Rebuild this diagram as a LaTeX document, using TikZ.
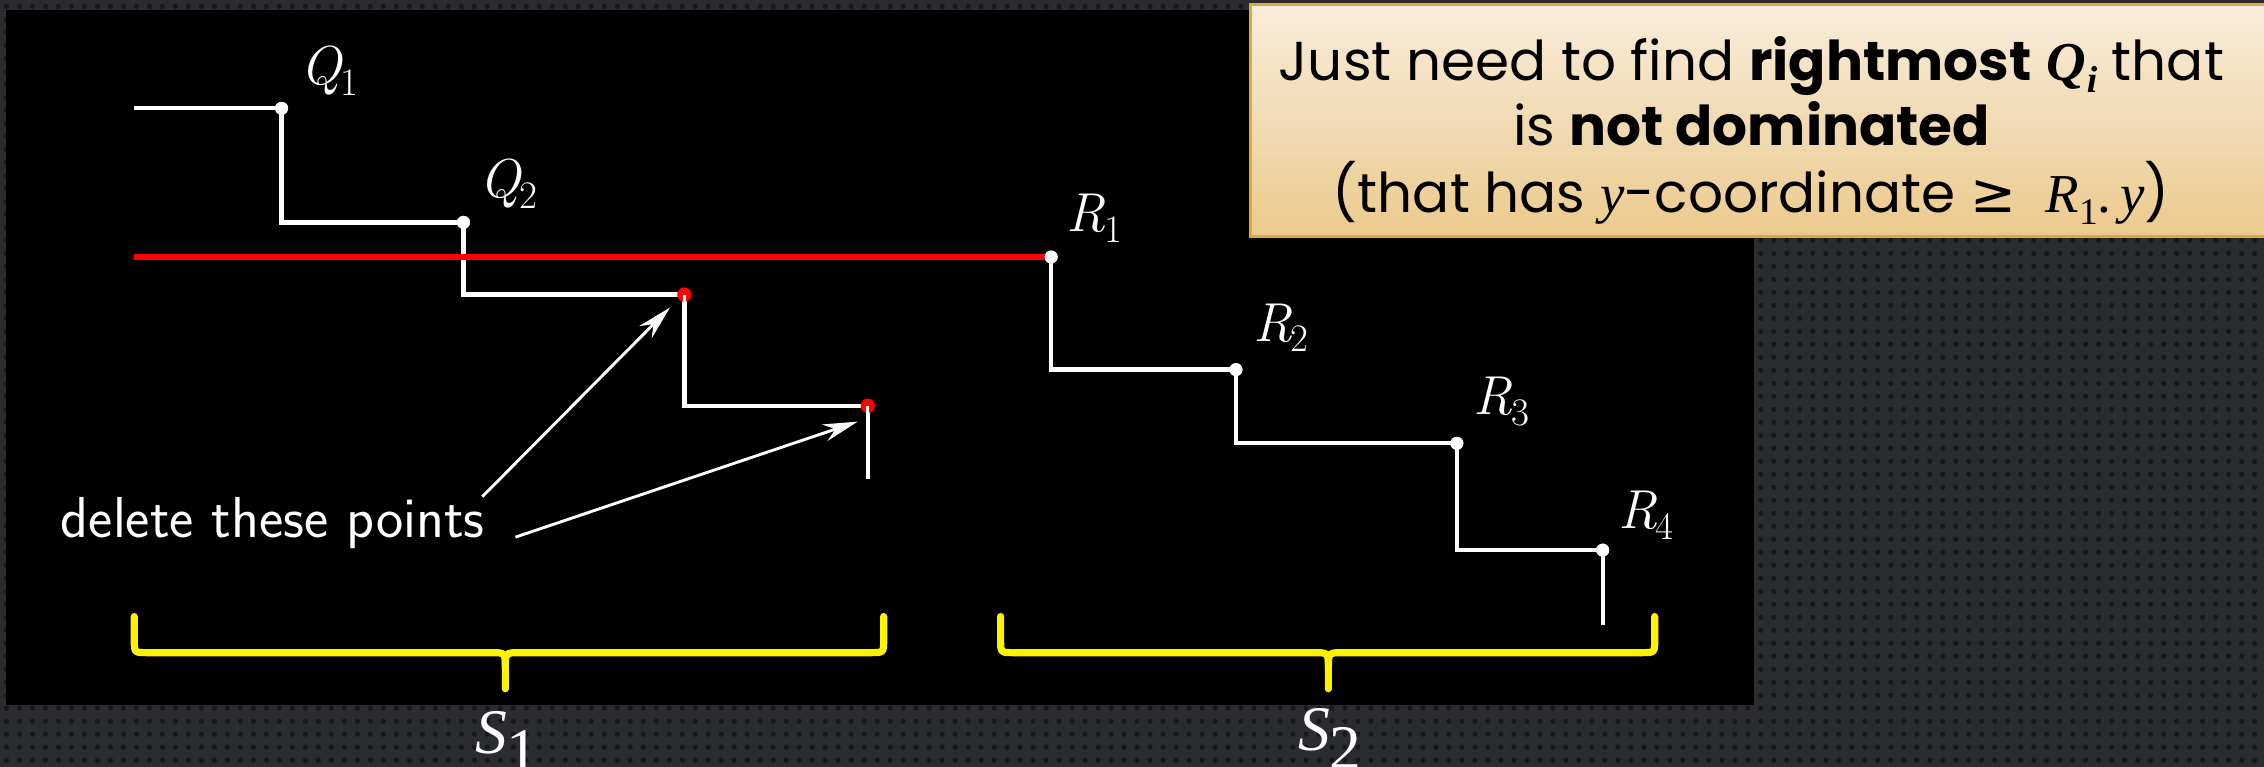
\documentclass[tikz,border=0pt]{standalone}
\usepackage{fontspec}
\newfontfamily\gothic{Poppins}
\newfontfamily\cmb{Liberation Serif}
\newfontfamily\djv{DejaVu Sans}
\usetikzlibrary{arrows.meta,patterns}
\pgfdeclarepatternformonly{bgdots}{\pgfpoint{-1pt}{-1pt}}{\pgfpoint{10pt}{10pt}}{\pgfpoint{9pt}{9pt}}{\pgfpathcircle{\pgfpoint{4.5pt}{4.5pt}}{1.8pt}\pgfusepath{fill}}
\definecolor{bgbase}{HTML}{2A2C30}
\definecolor{bgdot}{HTML}{17181C}
\definecolor{calltop}{HTML}{F8ECDB}
\definecolor{callbot}{HTML}{EBCA8C}
\definecolor{callborder}{HTML}{D9A848}
\definecolor{ptred}{HTML}{FF0000}
\newcommand{\qsub}{{\cmb\bfseries\itshape Q\kern0.02em\raisebox{-0.22em}{\fontsize{26}{26}\selectfont i}}}
\newcommand{\rdoty}{{\cmb\itshape R\raisebox{-0.22em}{\fontsize{26}{26}\selectfont\upshape 1}\upshape.\,\itshape y}}
\newcommand{\ptlab}[2]{{\itshape #1}\kern-0.03em\raisebox{-0.2em}{\fontsize{27}{27}\selectfont #2}}
\begin{document}
\begin{tikzpicture}[x=1pt,y=-1pt,
  wline/.style={white,line width=3pt},
  rline/.style={ptred,line width=4.5pt},
  wpt/.style={circle,fill=white,inner sep=0pt,minimum size=9pt},
  rpt/.style={circle,fill=ptred,inner sep=0pt,minimum size=10pt},
  lab/.style={white,font=\fontsize{38}{44}\selectfont},
  arr/.style={white,line width=2pt,-{Stealth[length=24pt,width=12pt]}},
  brace/.style={yellow,line width=5pt,line cap=round,line join=round},
  calltext/.style={black,inner sep=0pt,font=\gothic\fontsize{38}{44}\selectfont},
  slab/.style={white,inner sep=0pt,font=\cmb\fontsize{44}{48}\selectfont}]
\useasboundingbox (0,0) rectangle (1568,531);
\fill[bgbase] (0,0) rectangle (1568,531);
\fill[pattern=bgdots,pattern color=bgdot] (0,0) rectangle (1568,531);
\fill[black] (4,7) rectangle (1215,488);

% callout box
\shade[top color=calltop,bottom color=callbot] (866,3) rectangle (1580,164);
\draw[callborder,line width=2pt] (866,3) rectangle (1580,164);
\node[calltext,anchor=base] (t1) at (1213,56) {Just need to find \textbf{rightmost} \qsub{} that};
\node[calltext,anchor=base] (t2) at (1213,101) {is \textbf{not dominated}};
\node[calltext,anchor=base] (t3) at (1213,147) {(that has {\cmb\itshape y}-coordinate {\djv ≥}\ \ \rdoty)};

% coordinates
\coordinate (q0) at (93,75);
\coordinate (qend) at (601,332);
\coordinate (l0) at (93,178);
\coordinate (rend) at (1110,433);
\coordinate (d1) at (474,204);
\coordinate (d2) at (601,281);

% left staircase
\node[wpt] (q1) at (195,75) {};
\node[wpt] (q2) at (321,154) {};
\draw[wline] (q0) -- (q1.center) |- (q2.center) |- (d1) |- (d2) -- (qend);
\node[wpt] at (q1) {};
\node[wpt] at (q2) {};
\node[rpt] (p1) at (d1) {};
\node[rpt] (p2) at (d2) {};
\draw[white,line width=2pt] (p1.center) -- (p1.south);
\draw[white,line width=2pt] (p2.center) -- (p2.south);

% right staircase
\node[wpt] (r1) at (728,178) {};
\node[wpt] (r2) at (856,256) {};
\node[wpt] (r3) at (1009,307) {};
\node[wpt] (r4) at (1110,381) {};
\draw[wline] (r1.center) |- (r2.center) |- (r3.center) |- (r4.center) -- (rend);
\draw[rline] (l0) -- (r1.center);
\foreach \n in {r1,r2,r3,r4} \node[wpt] at (\n) {};

% labels
\node[lab] (lq1) at (228,49) {\ptlab{Q}{1}};
\node[lab] (lq2) at (352,127) {\ptlab{Q}{2}};
\node[lab] (lr1) at (758,151) {\ptlab{R}{1}};
\node[lab] (lr2) at (887,227) {\ptlab{R}{2}};
\node[lab] (lr3) at (1040,278) {\ptlab{R}{3}};
\node[lab] (lr4) at (1140,357) {\ptlab{R}{4}};

% delete text and arrows
\node[white,inner sep=0pt,anchor=base west,font=\sffamily\fontsize{40}{44}\selectfont] (del) at (42,372) {delete these points};
\coordinate (a1s) at (334,344);
\coordinate (a1e) at (464,213);
\coordinate (a2s) at (357,372);
\coordinate (a2e) at (594,292);
\draw[arr] (a1s) -- (a1e);
\draw[arr] (a2s) -- (a2e);

% braces
\draw[brace] (93,427) -- (93,443) .. controls (93,452) .. (102,452) -- (340,452) .. controls (350,452) .. (350,463) -- (350,477);
\draw[brace] (350,463) .. controls (350,452) .. (360,452) -- (603,452) .. controls (612,452) .. (612,443) -- (612,427);
\draw[brace] (693,427) -- (693,443) .. controls (693,452) .. (702,452) -- (910,452) .. controls (920,452) .. (920,463) -- (920,477);
\draw[brace] (920,463) .. controls (920,452) .. (930,452) -- (1137,452) .. controls (1146,452) .. (1146,443) -- (1146,427);

\node[slab,anchor=base] (s1) at (351,522) {{\itshape S}\raisebox{-0.3em}{1}};
\node[slab,anchor=base] (s2) at (921,520) {{\itshape S}\raisebox{-0.3em}{2}};
\end{tikzpicture}
\end{document}
